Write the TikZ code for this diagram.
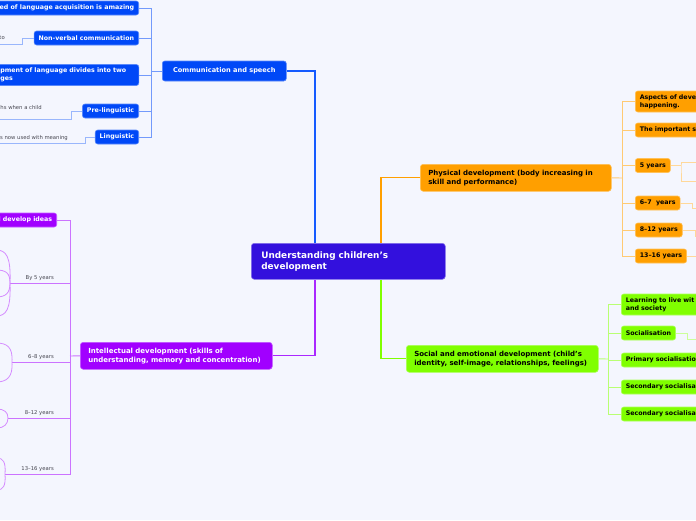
\documentclass[tikz,border=0pt]{standalone}
\usepackage{fontspec}
\setmainfont{DejaVu Sans}
\usetikzlibrary{positioning, calc}
\definecolor{bgc}{RGB}{244,246,254}
\definecolor{rootc}{RGB}{51,16,221}
\definecolor{commc}{RGB}{0,72,247}
\definecolor{physc}{RGB}{255,159,0}
\definecolor{socc}{RGB}{128,255,0}
\definecolor{intc}{RGB}{161,0,255}
\definecolor{notegray}{RGB}{70,70,80}
\definecolor{commlink}{RGB}{20,90,255}
\definecolor{intlink}{RGB}{170,40,255}

\tikzset{
  topic/.style={rectangle, rounded corners=2.5pt, inner xsep=4.5pt, inner ysep=0pt,
    minimum height=14pt, line width=0.6pt, font=\bfseries\fontsize{6.3}{8}\selectfont},
  commbox/.style={topic, fill=commc, draw=commc!65!white, text=white},
  physbox/.style={topic, fill=physc, draw=physc!65!white, text=black},
  socbox/.style={topic, fill=socc, draw=socc!65!white, text=black},
  intbox/.style={topic, fill=intc, draw=intc!65!white, text=white},
  cutbox/.style={text width=#1, align=left},
  mainbox/.style={rectangle, rounded corners=3pt, inner xsep=8pt, inner ysep=0pt,
    minimum height=27pt, text width=175pt, align=left, line width=0.6pt,
    font=\bfseries\fontsize{7}{9}\selectfont},
  rootbox/.style={rectangle, rounded corners=3pt, fill=rootc, draw=rootc!60!white,
    text=white, inner xsep=10pt, inner ysep=0pt, minimum height=36pt, text width=174pt,
    align=left, line width=0.6pt, font=\bfseries\fontsize{8.9}{11}\selectfont},
  notelabel/.style={inner sep=0pt, text=notegray, font=\fontsize{5.3}{6}\selectfont},
  mainlink/.style={line width=1.2pt},
  forklink/.style={line width=0.9pt},
  sublink/.style={line width=0.8pt},
}

\begin{document}
\begin{tikzpicture}[x=1pt, y=-1pt]
  \useasboundingbox (0,0) rectangle (696,520);
  \fill[bgc] (0,0) rectangle (696,520);
  \clip (0,0) rectangle (696,520);

  % central topic
  \node[rootbox, anchor=north west] (root) at (251,243) {Understanding children’s\\development};

  % main branches
  \node[commbox, anchor=west, minimum width=124pt, minimum height=20pt, inner xsep=0pt,
    font=\bfseries\fontsize{6.6}{8}\selectfont] (comm) at (162,71) {Communication and speech};
  \node[mainbox, fill=physc, draw=physc!65!white, anchor=north west] (phys) at (420,164) {Physical development (body increasing in\\skill and performance)};
  \node[mainbox, fill=socc, draw=socc!65!white, anchor=north west, text width=176pt] (soc) at (406,345) {Social and emotional development (child’s\\identity, self-image, relationships, feelings)};
  \node[mainbox, fill=intc, draw=intc!65!white, text=white, anchor=north west, text width=176pt] (intel) at (80,342) {Intellectual development (skills of\\understanding, memory and concentration)};

  \draw[mainlink, draw=commlink] (comm.east) -| ([xshift=64pt]root.north west);
  \draw[mainlink, draw=physc] (phys.west) -| ([xshift=130pt]root.north west);
  \draw[mainlink, draw=socc] (soc.west) -| ([xshift=130pt]root.south west);
  \draw[mainlink, draw=intlink] (intel.east) -| ([xshift=64pt]root.south west);

  % communication and speech
  \node[commbox, anchor=east] (speed) at (139,8) {ed of language acquisition is amazing};
  \node[commbox, anchor=east] (nonverbal) at (139,38) {Non-verbal communication};
  \node[commbox, anchor=west, cutbox=134pt, minimum height=21pt] (stages) at (-4.5,75) {pment of language divides into two\\ges};
  \node[commbox, anchor=east] (preling) at (139,111) {Pre-linguistic};
  \node[commbox, anchor=east] (ling) at (139,137) {Linguistic};

  \coordinate (commfork) at (151,71);
  \draw[forklink, commc!55] (comm.west) -- (commfork);
  \foreach \child in {speed, nonverbal, stages, preling, ling}
    \draw[forklink, commc!55] (commfork) |- (\child.east);

  \node[notelabel, anchor=east] (nvnote) at (5,38) {to};
  \node[notelabel, anchor=east] (prenote) at (42,108) {hs when a child};
  \node[notelabel, anchor=east] (lingnote) at (68,138) {s now used with meaning};
  \coordinate (nvbend) at (22,44);
  \coordinate (nvend) at (-5,44);
  \coordinate (prebend) at (71,119);
  \coordinate (preend) at (-5,119);
  \coordinate (lingbend) at (85,143);
  \coordinate (lingend) at (-5,143);
  \draw[sublink, commc!40] (nonverbal.west) -| (nvbend) -- (nvend);
  \draw[sublink, commc!40] (preling.west) -| (prebend) -- (preend);
  \draw[sublink, commc!40] (ling.west) -| (lingbend) -- (lingend);

  % physical development
  \node[physbox, anchor=west, cutbox=80pt, minimum height=21pt] (aspects) at (635,101.5) {Aspects of deve\\happening.};
  \node[physbox, anchor=west, cutbox=80pt] (important) at (635,130) {The important s};
  \node[physbox, anchor=west] (five) at (635,165.5) {5 years};
  \node[physbox, anchor=west] (sixseven) at (635,203) {6–7~~years};
  \node[physbox, anchor=west] (eighttwelve) at (635,230) {8–12 years};
  \node[physbox, anchor=west] (thirteen) at (635,256) {13–16 years};

  \coordinate (physfork) at (622,178);
  \draw[forklink, physc!55] (phys.east) -- (physfork);
  \foreach \child in {aspects, important, five, sixseven, eighttwelve, thirteen}
    \draw[forklink, physc!55] (physfork) |- (\child.west);

  \coordinate (fivefork) at (681,165.5);
  \coordinate (fivetop) at (700,162);
  \coordinate (fivebot) at (700,181);
  \draw[sublink, physc!40] (five.east) -- (fivefork);
  \draw[sublink, physc!40] (fivetop) -| (fivefork) |- (fivebot);
  \coordinate (sixbend) at (692,208);
  \coordinate (sixend) at (702,208);
  \draw[sublink, physc!40] (sixseven.east) -| (sixbend) -- (sixend);
  \coordinate (eightbend) at (695,236);
  \coordinate (eightend) at (702,236);
  \draw[sublink, physc!40] (eighttwelve.east) -| (eightbend) -- (eightend);
  \coordinate (thirteenend) at (702,256);
  \draw[sublink, physc!40] (thirteen.east) -- (thirteenend);

  % social and emotional development
  \node[socbox, anchor=west, cutbox=90pt, minimum height=21pt] (learn) at (621,304.5) {Learning to live wit\\and society};
  \node[socbox, anchor=west] (socialis) at (621,333) {Socialisation};
  \node[socbox, anchor=west, cutbox=90pt] (primary) at (621,360) {Primary socialisatio};
  \node[socbox, anchor=west, cutbox=90pt] (secondone) at (621,387) {Secondary socialisa};
  \node[socbox, anchor=west, cutbox=90pt] (secondtwo) at (621,414) {Secondary socialisa};

  \coordinate (socfork) at (608,359);
  \draw[forklink, socc!55] (soc.east) -- (socfork);
  \foreach \child in {learn, socialis, primary, secondone, secondtwo}
    \draw[forklink, socc!55] (socfork) |- (\child.west);
  \coordinate (socialbend) at (687,339);
  \coordinate (socialend) at (702,339);
  \draw[sublink, socc!40] (socialis.east) -| (socialbend) -- (socialend);

  % intellectual development
  \node[intbox, anchor=east] (ideas) at (57,220) {l develop ideas};
  \node[notelabel, anchor=south east] (byfive) at (54,281) {By 5 years};
  \node[notelabel, anchor=south east] (sixeight) at (54,360) {6–8 years};
  \node[notelabel, anchor=south east] (eighttw) at (54,416) {8–12 years};
  \node[notelabel, anchor=south east] (thirteensix) at (54,472) {13–16 years};
  \coordinate (byfivejoin) at (10,283);
  \coordinate (sixeightjoin) at (12,362);
  \coordinate (eighttwjoin) at (8,418);
  \coordinate (thirteensixjoin) at (5,474);

  \coordinate (intfork) at (70,356);
  \draw[forklink, intc!55] (intel.west) -- (intfork);
  \draw[forklink, intc!55] (intfork) |- (ideas.east);
  \foreach \join in {byfivejoin, sixeightjoin, eighttwjoin, thirteensixjoin}
    \draw[forklink, intc!55] (intfork) |- (\join);

  % curved links to the hidden leaves
  \draw[sublink, intc!45] (byfivejoin) .. controls (11,256) and (6,250) .. (-4,250);
  \draw[sublink, intc!45] (byfivejoin) .. controls (10,273) and (6,270) .. (-4,270);
  \draw[sublink, intc!45] (byfivejoin) .. controls (10,293) and (6,297) .. (-4,297);
  \draw[sublink, intc!45] (byfivejoin) .. controls (11,310) and (6,316) .. (-4,316);
  \draw[sublink, intc!45] (sixeightjoin) .. controls (13,347) and (7,343) .. (-4,343);
  \draw[sublink, intc!45] (sixeightjoin) .. controls (13,377) and (7,382) .. (-4,382);
  \draw[sublink, intc!45] (eighttwjoin) .. controls (8,412) and (4,409) .. (-3,409);
  \draw[sublink, intc!45] (eighttwjoin) .. controls (8,424) and (4,428) .. (-3,428);
  \draw[sublink, intc!45] (thirteensixjoin) .. controls (6,462) and (3,458) .. (-3,458);
  \draw[sublink, intc!45] (thirteensixjoin) .. controls (6,486) and (3,490) .. (-3,490);
\end{tikzpicture}
\end{document}
